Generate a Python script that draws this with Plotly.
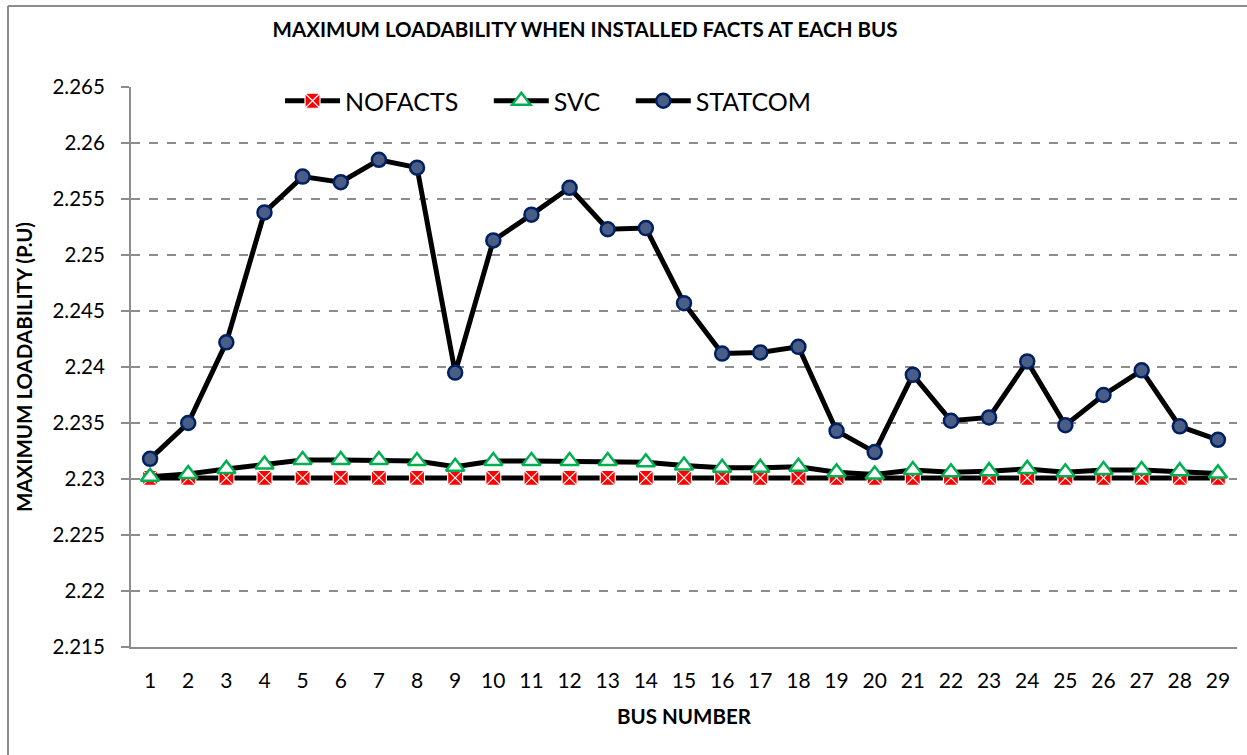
import plotly.graph_objects as go

# Bus numbers along the horizontal axis
buses = list(range(1, 30))

# Maximum loadability (p.u.) for each case
nofacts = [2.2301] * 29
svc = [2.2302, 2.23045, 2.2309, 2.2313, 2.2317, 2.2317, 2.2317, 2.2316, 2.2311,
       2.2316, 2.2316, 2.2316, 2.2316, 2.2315, 2.2312, 2.2310, 2.2310, 2.2311,
       2.2306, 2.2304, 2.2308, 2.2306, 2.2307, 2.2309, 2.2306, 2.2308, 2.2308,
       2.2307, 2.2305]
statcom = [2.2318, 2.2350, 2.2422, 2.2538, 2.2570, 2.2565, 2.2585, 2.2578, 2.2395,
           2.2513, 2.2536, 2.2560, 2.2523, 2.2524, 2.2457, 2.2412, 2.2413, 2.2418,
           2.2343, 2.2324, 2.2393, 2.2352, 2.2355, 2.2405, 2.2348, 2.2375, 2.2397,
           2.2347, 2.2335]

y_ticks = [2.215, 2.22, 2.225, 2.23, 2.235, 2.24, 2.245, 2.25, 2.255, 2.26, 2.265]
y_tick_text = ["2.215", "2.22", "2.225", "2.23", "2.235", "2.24", "2.245",
               "2.25", "2.255", "2.26", "2.265"]

FONT = "Lato"
W, H = 1247, 755
ML, MR, MT, MB = 131, 10, 87, 108
pw, ph = W - ML - MR, H - MT - MB


def px_x(px):
    """Pixel column -> paper x."""
    return (px - ML) / pw


def px_y(py):
    """Pixel row -> paper y."""
    return (H - MB - py) / ph


NBSP = "\u00a0"

fig = go.Figure()

fig.add_trace(go.Scatter(
    x=buses, y=nofacts, name="NOFACTS" + NBSP * 4, mode="lines+markers",
    line=dict(color="black", width=5),
    marker=dict(symbol="square-x", size=15, color="#ff0000",
                line=dict(color="white", width=1.2)),
))
fig.add_trace(go.Scatter(
    x=buses, y=svc, name="SVC" + NBSP * 4, mode="lines+markers",
    line=dict(color="black", width=5),
    marker=dict(symbol="triangle-up", size=16, color="white",
                line=dict(color="#00b050", width=2.5)),
))
fig.add_trace(go.Scatter(
    x=buses, y=statcom, name="STATCOM", mode="lines+markers",
    line=dict(color="black", width=5),
    marker=dict(symbol="circle", size=14, color="#4a5d86",
                line=dict(color="#002060", width=2.5)),
))

# Outer chart frame (left and top edges)
frame = dict(color="#8c8c8c", width=2)
fig.add_shape(type="line", xref="paper", yref="paper",
              x0=px_x(8), x1=px_x(8), y0=px_y(H + 2), y1=px_y(6), line=frame)
fig.add_shape(type="line", xref="paper", yref="paper",
              x0=px_x(8), x1=px_x(W + 2), y0=px_y(6), y1=px_y(6), line=frame)

fig.update_layout(
    width=W, height=H,
    margin=dict(l=ML, r=MR, t=MT, b=MB),
    paper_bgcolor="white", plot_bgcolor="white",
    font=dict(family=FONT, color="black"),
    title=dict(text="<b>MAXIMUM LOADABILITY WHEN INSTALLED FACTS AT EACH BUS</b>",
               x=585 / W, xanchor="center", y=1 - 30 / H, yanchor="middle",
               font=dict(size=20.5, family=FONT)),
    legend=dict(orientation="h", x=px_x(280), xanchor="left",
                y=px_y(101), yanchor="middle",
                font=dict(size=25, family=FONT), itemwidth=55,
                bgcolor="rgba(0,0,0,0)"),
    showlegend=True,
)

fig.update_xaxes(
    range=[0.5, 29.5], tickmode="array", tickvals=buses,
    ticktext=[str(b) for b in buses],
    showgrid=False, showline=True, linecolor="#8c8c8c", linewidth=2,
    ticks="", ticklabelstandoff=14, tickfont=dict(size=21, family=FONT),
    title=dict(text="<b>BUS NUMBER</b>", font=dict(size=20.5, family=FONT), standoff=18),
    zeroline=False,
)
fig.update_yaxes(
    range=[2.215, 2.265], tickmode="array", tickvals=y_ticks, ticktext=y_tick_text,
    showgrid=True, gridcolor="#8c8c8c", griddash="dash", gridwidth=1.5,
    showline=True, linecolor="#8c8c8c", linewidth=2,
    ticks="outside", ticklen=8, tickcolor="#8c8c8c", tickwidth=1.5,
    ticklabelstandoff=12, tickfont=dict(size=20.5, family=FONT),
    title=dict(text="<b>MAXIMUM LOADABILITY (P.U)</b>", font=dict(size=20.5, family=FONT),
               standoff=14),
    zeroline=False,
)

fig.write_html("out.html")
